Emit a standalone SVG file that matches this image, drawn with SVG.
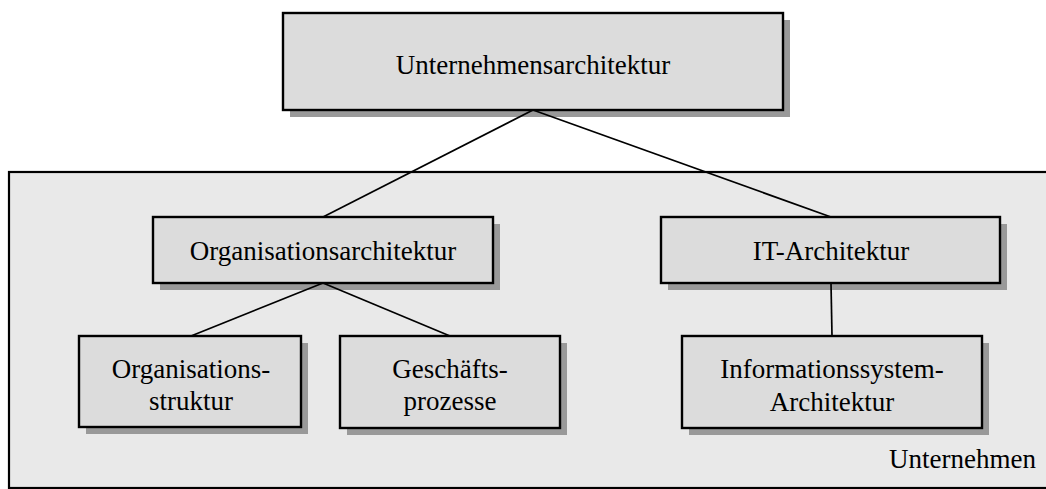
<svg xmlns="http://www.w3.org/2000/svg" width="1046" height="489" viewBox="0 0 1046 489">
  <style>
    .shadow { fill: #999999; }
    .box { fill: #dcdcdc; stroke: #000; stroke-width: 2.4; }
    .frame { fill: #e9e9e9; stroke: #000; stroke-width: 2.2; }
    .label { font-family: "Liberation Serif", "Times New Roman", serif; font-size: 27px; fill: #000; text-anchor: middle; }
    .link { stroke: #000; stroke-width: 1.7; fill: none; }
  </style>

  <!-- top-level node -->
  <g id="unternehmensarchitektur">
    <rect class="shadow" x="290" y="20" width="500" height="97"/>
    <rect class="box" x="283" y="13" width="500" height="97"/>
    <text class="label" x="533" y="74">Unternehmensarchitektur</text>
  </g>

  <!-- enterprise frame -->
  <g id="unternehmen">
    <rect class="frame" x="9" y="172" width="1050" height="316"/>
    <text class="label" x="1036" y="468" style="text-anchor:end">Unternehmen</text>
  </g>

  <g id="organisationsarchitektur">
    <rect class="shadow" x="160" y="224" width="340" height="66"/>
    <rect class="box" x="153" y="217" width="340" height="66"/>
    <text class="label" x="323" y="260">Organisationsarchitektur</text>
  </g>

  <g id="it-architektur">
    <rect class="shadow" x="668" y="224" width="339" height="66"/>
    <rect class="box" x="661" y="217" width="339" height="66"/>
    <text class="label" x="831" y="260">IT-Architektur</text>
  </g>

  <g id="organisationsstruktur">
    <rect class="shadow" x="86" y="343" width="222" height="91"/>
    <rect class="box" x="79" y="336" width="222" height="91"/>
    <text class="label" x="191" y="378">Organisations-</text>
    <text class="label" x="191" y="410">struktur</text>
  </g>

  <g id="geschaeftsprozesse">
    <rect class="shadow" x="347" y="343" width="220" height="92"/>
    <rect class="box" x="340" y="336" width="220" height="92"/>
    <text class="label" x="450" y="378">Geschäfts-</text>
    <text class="label" x="450" y="410">prozesse</text>
  </g>

  <g id="informationssystem-architektur">
    <rect class="shadow" x="689" y="343" width="300" height="92"/>
    <rect class="box" x="682" y="336" width="300" height="92"/>
    <text class="label" x="832" y="378">Informationssystem-</text>
    <text class="label" x="832" y="411">Architektur</text>
  </g>

  <!-- connectors, drawn over the drop shadows -->
  <g id="connectors">
    <line class="link" x1="533" y1="110" x2="323" y2="217"/>
    <line class="link" x1="533" y1="110" x2="831" y2="217"/>
    <line class="link" x1="323" y1="283" x2="191" y2="336"/>
    <line class="link" x1="323" y1="283" x2="450" y2="336"/>
    <line class="link" x1="831" y1="283" x2="832" y2="336"/>
  </g>
</svg>
